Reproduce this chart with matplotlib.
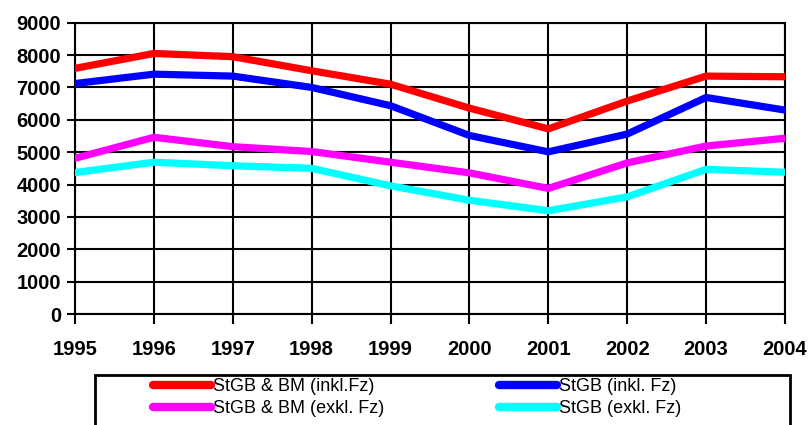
import matplotlib
matplotlib.use("Agg")
import matplotlib.pyplot as plt
from matplotlib.patches import Rectangle
from matplotlib.lines import Line2D

years = [1995, 1996, 1997, 1998, 1999, 2000, 2001, 2002, 2003, 2004]
stgb_bm_inkl = [7590, 8050, 7950, 7515, 7100, 6360, 5720, 6580, 7350, 7330]
stgb_inkl = [7120, 7410, 7350, 7000, 6435, 5515, 5010, 5560, 6690, 6300]
stgb_bm_exkl = [4810, 5460, 5170, 5020, 4690, 4360, 3880, 4670, 5190, 5430]
stgb_exkl = [4370, 4690, 4580, 4500, 3960, 3515, 3190, 3620, 4470, 4380]
labels = ["StGB & BM (inkl.Fz)", "StGB (inkl. Fz)", "StGB & BM (exkl. Fz)", "StGB (exkl. Fz)"]
colors = ["#ff0000", "#0000ff", "#ff00ff", "#00ffff"]
yticks = list(range(0, 9001, 1000))

fig = plt.figure(figsize=(8.09, 4.25), dpi=100)
ax = fig.add_axes([75/809, 1-314/425, (785-75)/809, (314-22.7)/425])

series = [stgb_bm_inkl, stgb_inkl, stgb_bm_exkl, stgb_exkl]
handles = []
for s, c, l in zip(series, colors, labels):
    h, = ax.plot(years, s, color=c, lw=5.2, label=l, solid_joinstyle='miter', zorder=3)
    handles.append(h)

ax.set_xlim(1995, 2004)
ax.set_ylim(0, 9000)
ax.set_xticks(years)
ax.set_yticks(yticks)
ax.grid(True, color='black', lw=1.5)
ax.set_axisbelow(True)
for sp in ax.spines.values():
    sp.set_color('black')
    sp.set_linewidth(1.5)

tickfont = dict(family=['Liberation Sans', 'DejaVu Sans'], weight='bold', size=14.5)
ax.set_xticklabels([str(y) for y in years], **tickfont)
ax.set_yticklabels([str(v) for v in yticks], **tickfont)
ax.tick_params(axis='x', direction='out', length=7, width=1.5, pad=12)
ax.tick_params(axis='y', direction='out', length=6, width=1.5, pad=4)

# legend box
fig.add_artist(Rectangle((95/809, -0.05), (790-95)/809, 0.05 + (425-375)/425,
                         transform=fig.transFigure, fill=False, edgecolor='black', lw=2))

legfont = dict(family=['Liberation Sans Narrow', 'Liberation Sans', 'DejaVu Sans'], size=13)
def mk(hs, x):
    lh = [Line2D([], [], color=h.get_color(), lw=6, solid_capstyle='round') for h in hs]
    leg = fig.legend(lh, [h.get_label() for h in hs], loc='upper left',
                     bbox_to_anchor=(x/809, 1-378/425), frameon=False,
                     prop=legfont, handlelength=3.2, handletextpad=0.1,
                     labelspacing=0.3, borderpad=0, borderaxespad=0)
    return leg

mk([handles[0], handles[2]], 153)
mk([handles[1], handles[3]], 499)

fig.savefig("out.png", dpi=100)
